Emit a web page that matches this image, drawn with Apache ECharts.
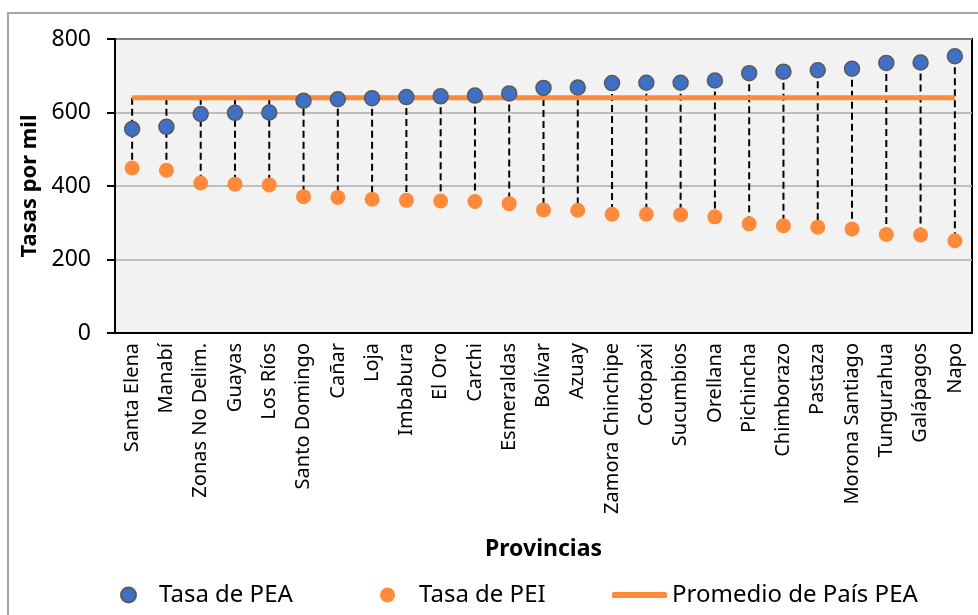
<!DOCTYPE html>
<html>
<head>
<meta charset="utf-8">
<script src="https://cdn.jsdelivr.net/npm/echarts@6/dist/echarts.min.js"></script>
<style>
  html, body { margin: 0; padding: 0; background: #fff; }
  #chart { width: 978px; height: 615px; }
</style>
</head>
<body>
<div id="chart"></div>
<script>
// Provinces ordered by participation rate (PEA), rates per thousand
const provincias = [
  'Santa Elena', 'Manabí', 'Zonas No Delim.', 'Guayas', 'Los Ríos',
  'Santo Domingo', 'Cañar', 'Loja', 'Imbabura', 'El Oro', 'Carchi',
  'Esmeraldas', 'Bolívar', 'Azuay', 'Zamora Chinchipe', 'Cotopaxi',
  'Sucumbios', 'Orellana', 'Pichincha', 'Chimborazo', 'Pastaza',
  'Morona Santiago', 'Tungurahua', 'Galápagos', 'Napo'
];
const tasaPEA = [555, 561, 596, 599, 600, 632, 636, 639, 642, 644, 646, 652, 667,
                 668, 680, 681, 681, 687, 707, 711, 715, 719, 735, 736, 753];
const tasaPEI = [449, 443, 408, 405, 403, 371, 369, 364, 361, 359, 358, 352, 335,
                 334, 323, 323, 322, 316, 297, 292, 288, 283, 268, 267, 251];
const promedioPaisPEA = 640;
const yTicks = { min: 0, max: 800, interval: 200 };

const FONT = 'Noto Sans';
const AZUL = '#4070C6';
const NARANJA = '#FF8B3A';

// Country average drawn as a flat line across all provinces
const promedioSerie = provincias.map(() => promedioPaisPEA);
// Each dashed connector runs from the higher of PEA / average down to PEI
const conectores = provincias.map((p, i) => [i, Math.max(tasaPEA[i], promedioPaisPEA), tasaPEI[i]]);

const chart = echarts.init(document.getElementById('chart'), null, { renderer: 'canvas' });

const legendBase = {
  orient: 'horizontal',
  top: 581,
  padding: 0,
  itemWidth: 15,
  itemHeight: 15,
  selectedMode: false,
  textStyle: { fontFamily: FONT, fontSize: 24, color: '#000', lineHeight: 28 }
};

chart.setOption({
  animation: false,
  backgroundColor: '#fff',
  textStyle: { fontFamily: FONT },
  graphic: [{
    type: 'rect',
    shape: { x: 8, y: 13, width: 1000, height: 700 },
    style: { fill: 'none', stroke: '#A6A6A6', lineWidth: 2 },
    silent: true,
    z: -10
  }],
  grid: {
    left: 115, right: 6, top: 39, bottom: 282,
    show: true,
    backgroundColor: '#F2F2F2',
    borderColor: '#000',
    borderWidth: 2
  },
  legend: [
    Object.assign({}, legendBase, {
      left: 120,
      data: [{ name: 'Tasa de PEA', icon: 'circle' }],
      textStyle: Object.assign({}, legendBase.textStyle, { padding: [0, 0, 0, 18] })
    }),
    Object.assign({}, legendBase, {
      left: 380,
      data: [{ name: 'Tasa de PEI', icon: 'circle' }],
      textStyle: Object.assign({}, legendBase.textStyle, { padding: [0, 0, 0, 19] })
    }),
    Object.assign({}, legendBase, {
      left: 612,
      itemWidth: 55,
      itemHeight: 6,
      data: [{ name: 'Promedio de País PEA', icon: 'roundRect', itemStyle: { color: NARANJA } }]
    })
  ],
  xAxis: {
    type: 'category',
    data: provincias,
    boundaryGap: true,
    name: 'Provincias',
    nameLocation: 'middle',
    nameGap: 205,
    nameTextStyle: { fontFamily: FONT, fontSize: 23, fontWeight: 'bold', color: '#000' },
    axisLine: { show: true, lineStyle: { color: '#000', width: 2 } },
    axisTick: { show: false },
    axisLabel: {
      rotate: 90,
      interval: 0,
      margin: 10,
      fontFamily: FONT,
      fontSize: 20,
      color: '#000'
    },
    splitLine: { show: false }
  },
  yAxis: {
    type: 'value',
    min: yTicks.min,
    max: yTicks.max,
    interval: yTicks.interval,
    name: 'Tasas por mil',
    nameLocation: 'middle',
    nameGap: 73,
    nameTextStyle: { fontFamily: FONT, fontSize: 22, fontWeight: 'bold', color: '#000' },
    axisLine: { show: true, lineStyle: { color: '#000', width: 2 } },
    axisTick: { show: true, inside: false, length: 8, lineStyle: { color: '#000', width: 2 } },
    axisLabel: { margin: 24, fontFamily: FONT, fontSize: 23, color: '#000' },
    splitLine: { show: true, lineStyle: { color: '#ADADAD', width: 1.5 } }
  },
  series: [
    {
      name: 'conectores',
      type: 'custom',
      data: conectores,
      encode: { x: 0, y: [1, 2] },
      z: 1,
      silent: true,
      renderItem: function (params, api) {
        const i = api.value(0);
        const top = api.coord([i, api.value(1)]);
        const bottom = api.coord([i, api.value(2)]);
        return {
          type: 'line',
          shape: { x1: top[0], y1: top[1], x2: bottom[0], y2: bottom[1] },
          style: { stroke: '#000', lineWidth: 2, lineDash: [7, 4] }
        };
      }
    },
    {
      name: 'Promedio de País PEA',
      type: 'line',
      data: promedioSerie,
      symbol: 'none',
      z: 2,
      lineStyle: { color: NARANJA, width: 5 },
      itemStyle: { color: NARANJA }
    },
    {
      name: 'Tasa de PEI',
      type: 'scatter',
      data: tasaPEI,
      symbol: 'circle',
      symbolSize: 15,
      z: 3,
      itemStyle: { color: NARANJA, opacity: 1 }
    },
    {
      name: 'Tasa de PEA',
      type: 'scatter',
      data: tasaPEA,
      symbol: 'circle',
      symbolSize: 15,
      z: 4,
      itemStyle: { color: AZUL, borderColor: '#5A5A5A', borderWidth: 1.5, opacity: 1 }
    }
  ]
});
</script>
</body>
</html>
